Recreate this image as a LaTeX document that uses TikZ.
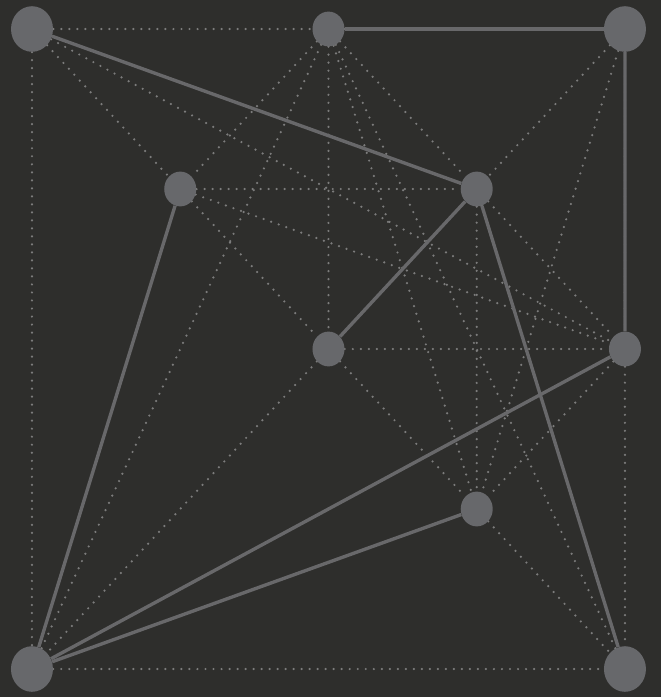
\documentclass[tikz,border=0pt]{standalone}
\usetikzlibrary{positioning,shapes.geometric,backgrounds}

\definecolor{boardbg}{HTML}{2E2E2C}
\definecolor{dotgray}{HTML}{7C7C7C}
\definecolor{wiregray}{HTML}{68686A}
\definecolor{knotgray}{HTML}{67686B}

\begin{document}
\begin{tikzpicture}[
  node distance=4cm and 3.706cm, on grid,
  knot/.style={ellipse, fill=knotgray, draw=none, minimum width=0.8cm, minimum height=0.87cm, inner sep=0pt},
  bigknot/.style={knot, minimum width=1.05cm, minimum height=1.14cm},
  faint/.style={draw=dotgray, line width=1.75pt, line cap=round, dash pattern=on 0pt off 5.7pt},
  wire/.style={draw=wiregray, line width=2.4pt}
]
% grid of points, diagonal first
\node[bigknot] (A) {};
\node[knot, below right=of A] (D) {};
\node[knot, below right=of D] (F) {};
\node[knot, below right=of F] (H) {};
\node[bigknot, below right=of H] (J) {};
\node[knot, right=7.412cm of A] (B) {};
\node[bigknot, right=7.412cm of B] (C) {};
\node[knot, below right=of B] (E) {};
\node[knot, below right=of E] (G) {};
\node[bigknot, left=14.825cm of J] (I) {};

\begin{scope}[on background layer]
\fill[boardbg] (-0.8,0.725) rectangle (15.725,-16.7);
% all candidate links
\foreach \p/\q in {A/B, B/C, A/I, I/J, G/J, C/G, A/D, D/F, F/H, H/J, A/G, B/D, B/F, B/E, E/G, B/H, B/J, B/I, C/E, C/H, D/E, D/G, E/H, F/G, F/I, G/H, A/E, E/J}
  \draw[faint] (\p) -- (\q);
% chosen links
\foreach \p/\q in {A/E, B/C, C/G, D/I, E/F, E/J, G/I, H/I}
  \draw[wire] (\p) -- (\q);
\end{scope}
\end{tikzpicture}
\end{document}
